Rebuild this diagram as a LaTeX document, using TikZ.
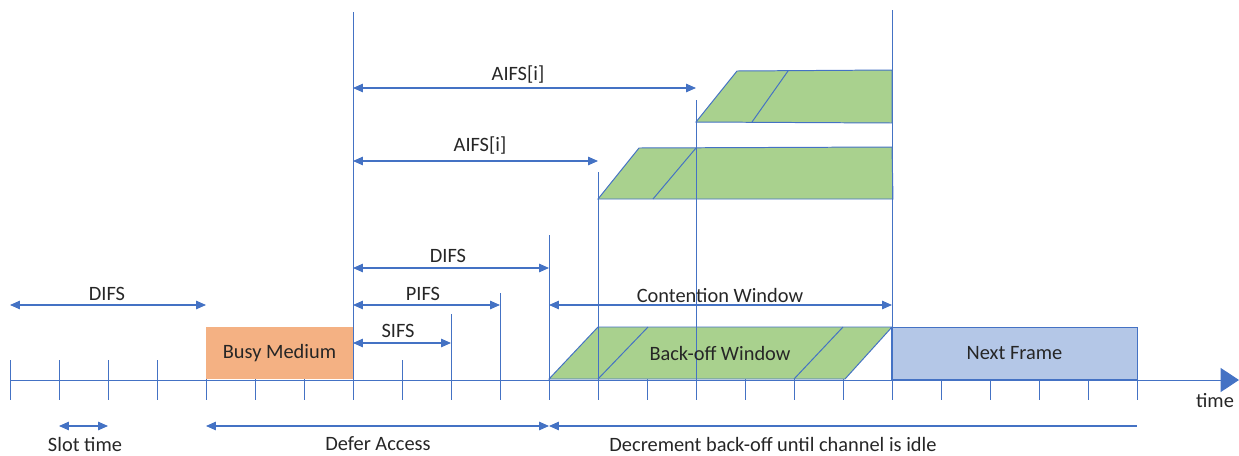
\documentclass[tikz,border=0pt]{standalone}
\usepackage{fontspec}
\setmainfont{Carlito}
\usetikzlibrary{arrows.meta}
\definecolor{lineblue}{HTML}{4472C4}
\definecolor{busyorange}{HTML}{F4B183}
\definecolor{cwgreen}{HTML}{A9D18E}
\definecolor{frameblue}{HTML}{B4C7E7}
\definecolor{txtgray}{HTML}{262626}
\begin{document}
\begin{tikzpicture}[x=0.025cm, y=-0.025cm, line width=0.7pt, color=lineblue,
		dim/.style={{Triangle[length=7pt,width=6pt]}-{Triangle[length=7pt,width=6pt]}, line width=0.8pt},
		lbl/.style={text=txtgray, font=\fontsize{14.5}{17}\selectfont, inner sep=0pt},
		win/.style={fill=cwgreen, draw=lineblue}]
			\useasboundingbox (0,0) rectangle (1239,455);
			% slots on the time axis
			\foreach \i in {0,...,23}
				\coordinate (t\i) at (10+49*\i,380);
			\foreach \i in {0,...,23}
				\draw (t\i |- 0,360) -- (t\i |- 0,400);
			% frames
			\node[lbl, fill=busyorange, minimum width=3.675cm, minimum height=1.3cm] (busy) at (279.5,353) {Busy Medium};
			\node[lbl, draw=lineblue, fill=frameblue, minimum width=6.125cm, minimum height=1.3cm] (next) at (1014.5,353) {Next Frame};
			\filldraw[win] (549,379) -- (598,327) -- (892,327) -- (845,379) -- cycle;
			\draw (598,379) -- (648,327);
			\draw (794,379) -- (843,327);
			\filldraw[win] (598,199) -- (639,148) -- (892,147) -- (893,199) -- cycle;
			\draw (653,199) -- (696,148);
			\filldraw[win] (696,122) -- (737,71) -- (892,70) -- (892,123) -- cycle;
			\draw (752,122) -- (788,71);
			% boundaries
			\draw (t7 |- 0,12) -- (t7 |- 0,400);
			\draw (t18 |- 0,10) -- (t18 |- 0,400);
			\draw (t9 |- 0,314) -- (t9);
			\draw (t10 |- 0,293) -- (t10);
			\draw (t11 |- 0,235) -- (t11);
			\draw (t12 |- 0,172) -- (t12);
			\draw (t14 |- 0,100) -- (t14);
			\draw[-{Triangle[length=13pt,width=17pt]}] (t0) -- (1239,380);
			% spacings
			\draw[dim] (t0 |- 0,305) -- (t4 |- 0,305);
			\draw[dim] (t7 |- 0,343) -- (t9 |- 0,343);
			\draw[dim] (t7 |- 0,305) -- (t10 |- 0,305);
			\draw[dim] (t7 |- 0,268) -- (t11 |- 0,268);
			\draw[dim] (t7 |- 0,161) -- (t12 |- 0,161);
			\draw[dim] (t7 |- 0,88) -- (t14 |- 0,88);
			\draw[dim] (t11 |- 0,305) -- (t18 |- 0,305);
			\draw[dim] (t1 |- 0,426) -- (t2 |- 0,426);
			\draw[dim] (t4 |- 0,426) -- (t11 |- 0,426);
			\draw[{Triangle[length=7pt,width=6pt]}-, line width=0.8pt] (t11 |- 0,426) -- (t23 |- 0,426);
			% labels
			\node[lbl] (difsleft) at (107,294) {DIFS};
			\node[lbl] (sifs) at (398,331) {SIFS};
			\node[lbl] (pifs) at (423,294) {PIFS};
			\node[lbl] (difs) at (448,256) {DIFS};
			\node[lbl] (aifslow) at (480,146) {AIFS[i]};
			\node[lbl] (aifshigh) at (518,75) {AIFS[i]};
			\node[lbl] (cw) at (720,295) {Contention Window};
			\node[lbl] (backoff) at (720,353) {Back-off Window};
			\node[lbl] (slot) at (85,444) {Slot time};
			\node[lbl] (defer) at (378,444) {Defer Access};
			\node[lbl] (decr) at (773,444) {Decrement back-off until channel is idle};
			\node[lbl] (time) at (1215,401) {time};
\end{tikzpicture}
\end{document}
